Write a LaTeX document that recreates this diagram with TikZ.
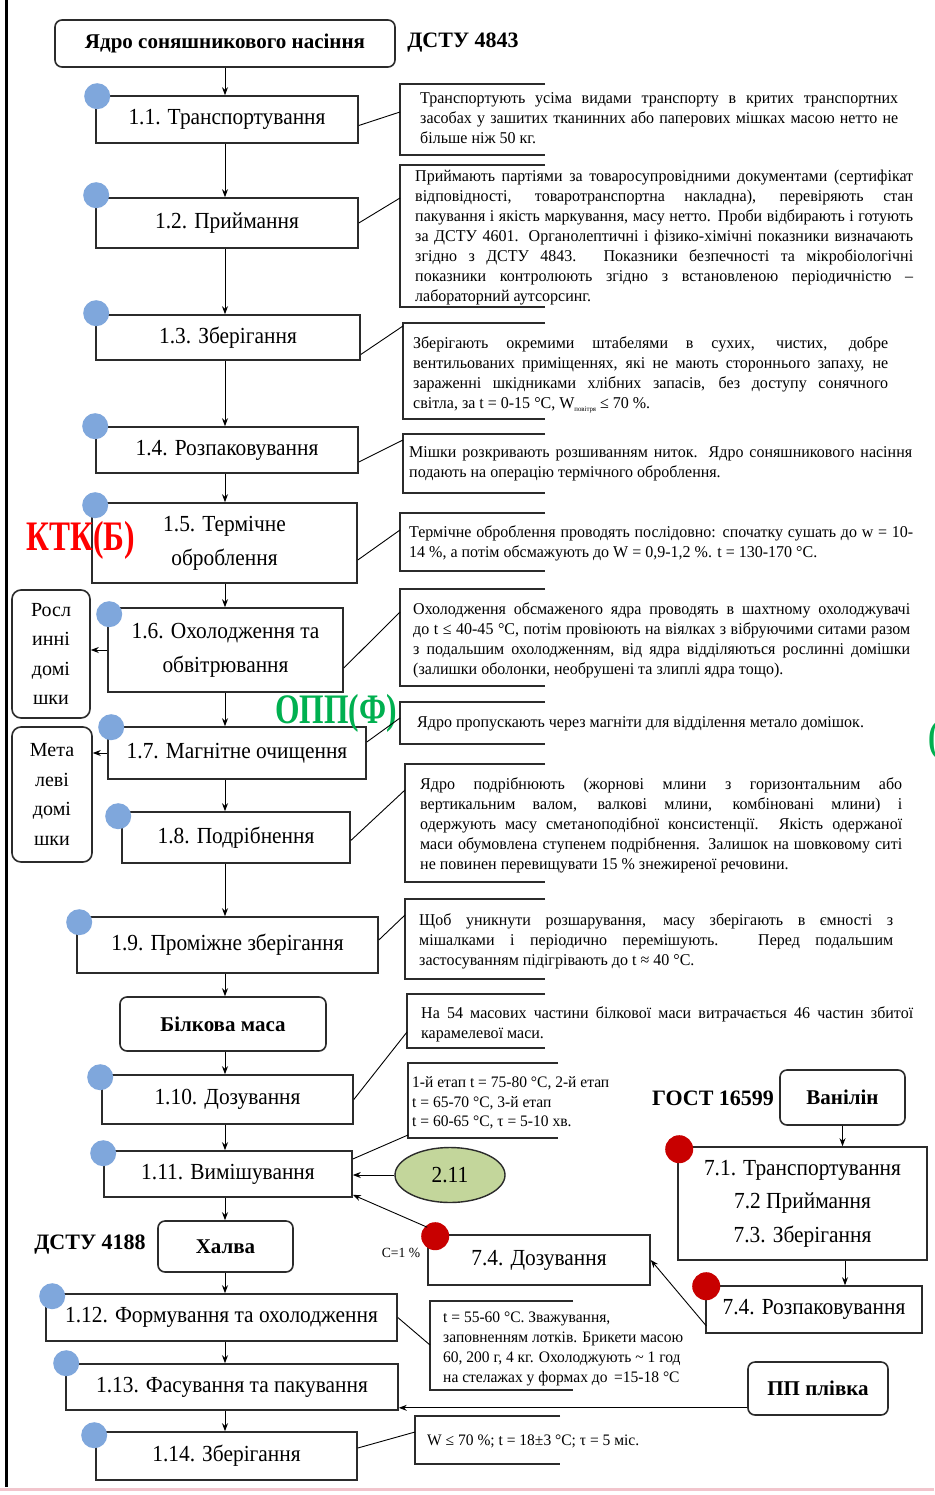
\documentclass[tikz,border=0pt]{standalone}
\usepackage{fontspec}
\setmainfont{Liberation Serif}
\newfontfamily\stepfont[FakeStretch=0.93]{Liberation Serif}
\newfontfamily\descfont[FakeStretch=0.97]{Liberation Serif}
\newfontfamily\markfont[FakeStretch=0.75]{Liberation Serif}
\usetikzlibrary{arrows.meta,calc,shapes.geometric}

\definecolor{stepblue}{HTML}{7FA7DC}
\definecolor{dotred}{HTML}{C80000}
\definecolor{ktkred}{HTML}{FF0000}
\definecolor{oppgreen}{HTML}{00B050}
\definecolor{ovalgreen}{HTML}{C3D69B}
\definecolor{edgegray}{HTML}{2B2B2B}
\definecolor{rulepink}{HTML}{F2C4CC}

% one justified line of a description block
\newcommand\jl[2]{\makebox[#1pt][s]{#2}}
% open frame of a description block: left side, top and bottom rules
\newcommand\dframe[4]{\draw[frameline] (#4,#2) -- (#1,#2) -- (#1,#3) -- (#4,#3);}

\tikzset{
  stepbox/.style={draw=edgegray, line width=1.6pt, fill=white, inner sep=2pt,
    align=center, font=\stepfont\fontsize{23}{34}\selectfont},
  roundbox/.style={stepbox, rounded corners=7pt, font=\bfseries\fontsize{21}{26}\selectfont},
  sidebox/.style={stepbox, rounded corners=9pt, font=\fontsize{20}{29.5}\selectfont},
  bluedot/.style={circle, fill=stepblue, minimum size=26pt, inner sep=0pt},
  reddot/.style={circle, fill=dotred, minimum size=28pt, inner sep=0pt},
  arr/.style={-{Stealth[length=8pt,width=6pt]}, line width=0.9pt},
  link/.style={line width=0.9pt},
  frameline/.style={draw=edgegray, line width=2pt},
  desc/.style={anchor=north west, inner sep=0pt, align=left,
    font=\descfont\fontsize{16.5}{20}\selectfont},
  smalldesc/.style={desc, font=\descfont\fontsize{16}{20}\selectfont},
  stdlabel/.style={font=\bfseries\fontsize{22}{26}\selectfont},
  ccp/.style={font=\markfont\bfseries\fontsize{42}{44}\selectfont},
}

\begin{document}
\begin{tikzpicture}[x=1pt,y=-1pt]
\useasboundingbox (0,0) rectangle (934,1495);
\fill[white] (0,0) rectangle (934,1495);

% page rules
\draw[line width=3pt] (6,0) -- (6,1487);
\draw[rulepink, line width=3pt] (0,1489) -- (934,1489);

\coordinate (ax) at (225,0);
\coordinate (rax) at (845,0);

% ---------- main line ----------
\node[roundbox, minimum width=340pt, minimum height=47pt] (top) at (225,43.5) {Ядро соняшникового насіння};
\node[stdlabel] (std1) at (463,43) {ДСТУ 4843};

\node[stepbox, minimum width=262pt, minimum height=47pt] (s11) at (227,119.5) {1.1. Транспортування};
\node[stepbox, minimum width=262pt, minimum height=50pt] (s12) at (227,223) {1.2. Приймання};
\node[stepbox, minimum width=264pt, minimum height=45pt] (s13) at (228,337.5) {1.3. Зберігання};
\node[stepbox, minimum width=262pt, minimum height=46pt] (s14) at (227,450) {1.4. Розпаковування};
\node[stepbox, minimum width=265pt, minimum height=80pt] (s15) at (224.5,543) {1.5. Термічне\\оброблення};
\node[stepbox, minimum width=235pt, minimum height=84pt] (s16) at (225.5,650) {1.6. Охолодження та\\обвітрювання};
\node[stepbox, minimum width=258pt, minimum height=52pt] (s17) at (237,753) {1.7. Магнітне очищення};
\node[stepbox, minimum width=228pt, minimum height=51pt] (s18) at (236,837.5) {1.8. Подрібнення};
\node[stepbox, minimum width=301pt, minimum height=56pt] (s19) at (227.5,945) {1.9. Проміжне зберігання};
\node[roundbox, minimum width=206pt, minimum height=54pt] (bilk) at (223,1024) {Білкова маса};
\node[stepbox, minimum width=251pt, minimum height=49pt] (s110) at (227.5,1099.5) {1.10. Дозування};
\node[stepbox, minimum width=248pt, minimum height=46pt] (s111) at (228,1174) {1.11. Вимішування};
\node[roundbox, minimum width=135pt, minimum height=51pt] (halva) at (225.5,1246.5) {Халва};
\node[stdlabel] (std2) at (90,1245) {ДСТУ 4188};
\node[stepbox, minimum width=351pt, minimum height=47pt] (s112) at (221.5,1317.5) {1.12. Формування та охолодження};
\node[stepbox, minimum width=332pt, minimum height=46pt] (s113) at (232,1387) {1.13. Фасування та пакування};
\node[stepbox, minimum width=261pt, minimum height=48pt] (s114) at (226.5,1456) {1.14. Зберігання};

% waste boxes
\node[sidebox, minimum width=78pt, minimum height=128pt] (rosl) at (51,654) {Росл\\инні\\домі\\шки};
\node[sidebox, minimum width=80pt, minimum height=135pt] (metal) at (52,794.5) {Мета\\леві\\домі\\шки};

% control point marks
\node[ccp, text=ktkred] (ktk) at (81,540) {КТК(Б)};
\node[ccp, text=oppgreen] (opp) at (336,713) {ОПП(Ф)};
\node[ccp, text=oppgreen, anchor=west, inner sep=0pt] (gparen) at (928,740) {(};

% ---------- vanillin line ----------
\node[stdlabel] (std3) at (713,1098) {ГОСТ 16599};
\node[roundbox, minimum width=125pt, minimum height=55pt] (van) at (842.5,1097.5) {Ванілін};
\node[stepbox, minimum width=249pt, minimum height=113pt, font=\stepfont\fontsize{23}{33.5}\selectfont] (s71) at (802.5,1203.5) {7.1. Транспортування\\7.2 Приймання\\7.3. Зберігання};
\node[stepbox, minimum width=216pt, minimum height=47pt] (s74r) at (814,1309.5) {7.4. Розпаковування};
\node[stepbox, minimum width=222pt, minimum height=50pt] (s74d) at (539,1260) {7.4. Дозування};
\node[font=\descfont\fontsize{14}{16}\selectfont] (conc) at (401,1253) {С=1 \%};
\node[ellipse, draw=edgegray, line width=1.4pt, fill=ovalgreen, minimum width=110pt, minimum height=55pt, font=\stepfont\fontsize{23}{26}\selectfont] (ell) at (450,1175) {2.11};
\node[roundbox, minimum width=140pt, minimum height=53pt] (pp) at (818,1388.5) {ПП плівка};

% step marks
\foreach \n/\dx/\dy in {s11/2/1, s12/1/-2, s13/1/-1, s14/0/0, s15/4/3, s16/2/7, s17/4/1, s18/-3/5,
                        s19/3/6, s110/-1/3, s111/0/3, s112/7/3, s113/1/0, s114/-1/4}
  \node[bluedot] (c\n) at ($(\n.north west)+(\dx,\dy)$) {};
\foreach \n/\dx/\dy in {s71/2/3, s74r/1/1, s74d/8/2}
  \node[reddot] (c\n) at ($(\n.north west)+(\dx,\dy)$) {};

% ---------- flow arrows ----------
\foreach \a/\b in {top/s11, s11/s12, s12/s13, s13/s14, s14/s15, s15/s16, s16/s17, s17/s18,
                   s18/s19, s19/bilk, bilk/s110, s110/s111, s111/halva, halva/s112, s112/s113, s113/s114}
  \draw[arr] (\a.south -| ax) -- (\b.north -| ax);
\draw[arr] (s16.west) -- (s16.west -| rosl.east);
\draw[arr] (s17.west) -- (s17.west -| metal.east);
\draw[arr] (van.south) -- (van.south |- s71.north);
\draw[arr] (s71.south -| rax) -- (s74r.north -| rax);
\draw[arr] ($(s74r.south west)+(1,-8)$) -- (s74d.east);
\draw[arr] ($(s74d.north west)+(0,-7)$) -- ($(s111.south east)+(0,-3)$);
\draw[arr] (ell.west) -- (ell.west -| s111.east);
\draw[arr] ($(pp.south west)+(0,-8)$) coordinate (ppout) -- (ppout -| s113.east);

% ---------- description blocks ----------
\dframe{400}{84}{155}{545}
\coordinate (d1) at (400,112);
\node[desc] (t1) at (420,89) {\strut\jl{478}{Транспортують усіма видами транспорту в критих транспортних}\\
\jl{478}{засобах у зашитих тканинних або паперових мішках масою нетто не}\\
більше ніж 50 кг.};

\dframe{400}{165}{307}{545}
\coordinate (d2) at (400,198);
\node[desc] (t2) at (415,167) {\strut\jl{498}{Приймають партіями за товаросупровідними документами (сертифікат}\\
\jl{498}{відповідності, товаротранспортна накладна), перевіряють стан}\\
\jl{498}{пакування і якість маркування, масу нетто. Проби відбирають і готують}\\
\jl{498}{за ДСТУ 4601. Органолептичні і фізико-хімічні показники визначають}\\
\jl{498}{згідно з ДСТУ 4843. Показники безпечності та мікробіологічні}\\
\jl{498}{показники контролюють згідно з встановленою періодичністю –}\\
лабораторний аутсорсинг.};

\dframe{403}{323}{419}{545}
\coordinate (d3) at (403,326);
\node[desc] (t3) at (413,334) {\strut\jl{475}{Зберігають окремими штабелями в сухих, чистих, добре}\\
\jl{475}{вентильованих приміщеннях, які не мають стороннього запаху, не}\\
\jl{475}{зараженні шкідниками хлібних запасів, без доступу сонячного}\\
світла, за t = 0-15 °С, W\raisebox{-3pt}{\fontsize{7}{8}\selectfont повітря} ≤ 70 \%.};

\dframe{403}{434}{493}{545}
\coordinate (d4) at (403,440);
\node[desc] (t4) at (409,443) {\strut\jl{503}{Мішки розкривають розшиванням ниток. Ядро соняшникового насіння}\\
подають на операцію термічного оброблення.};

\dframe{400}{513}{571}{545}
\coordinate (d5) at (400,530);
\node[desc] (t5) at (409,523) {\strut\jl{504}{Термічне оброблення проводять послідовно: спочатку сушать до w = 10-}\\
14 \%, а потім обсмажують до W = 0,9-1,2 \%. t = 130-170 °С.};

\dframe{400}{589}{686}{545}
\coordinate (d6) at (400,612);
\node[desc] (t6) at (413,600) {\strut\jl{497}{Охолодження обсмаженого ядра проводять в шахтному охолоджувачі}\\
\jl{497}{до t ≤ 40-45 °С, потім провіюють на віялках з вібруючими ситами разом}\\
\jl{497}{з подальшим охолодженням, від ядра відділяються рослинні домішки}\\
(залишки оболонки, необрушені та злиплі ядра тощо).};

\dframe{400}{702}{744}{545}
\coordinate (d7) at (400,718);
\node[desc] (t7) at (417,713) {\strut Ядро пропускають через магніти для відділення метало домішок.};

\dframe{405}{764}{882}{545}
\coordinate (d8) at (405,790);
\node[desc] (t8) at (420,775) {\strut\jl{482}{Ядро подрібнюють (жорнові млини з горизонтальним або}\\
\jl{482}{вертикальним валом, валкові млини, комбіновані млини) і}\\
\jl{482}{одержують масу сметаноподібної консистенції. Якість одержаної}\\
\jl{482}{маси обумовлена ступенем подрібнення. Залишок на шовковому ситі}\\
не повинен перевищувати 15 \% знежиреної речовини.};

\dframe{405}{899}{979}{545}
\coordinate (d9) at (405,915);
\node[desc] (t9) at (419,911) {\strut\jl{474}{Щоб уникнути розшарування, масу зберігають в ємності з}\\
\jl{474}{мішалками і періодично перемішують. Перед подальшим}\\
застосуванням підігрівають до t ≈ 40 °С.};

\dframe{407}{994}{1048}{545}
\coordinate (d10) at (407,1032);
\node[desc] (t10) at (421,1004) {\strut\jl{492}{На 54 масових частини білкової маси витрачається 46 частин збитої}\\
карамелевої маси.};

\dframe{408}{1063}{1138}{558}
\coordinate (d11) at (408,1135);
\node[smalldesc, font=\descfont\fontsize{16}{19.5}\selectfont] (t11) at (412,1074) {\strut 1-й етап t = 75-80 °С, 2-й етап\\
t = 65-70 °С, 3-й етап\\
t = 60-65 °С, τ = 5-10 хв.};

\dframe{430}{1301}{1390}{573}
\coordinate (d12) at (430,1345);
\node[smalldesc] (t12) at (443,1308.5) {\strut t = 55-60 °С. Зважування,\\
заповненням лотків. Брикети масою\\
60, 200 г, 4 кг. Охолоджують \textasciitilde{} 1 год\\
на стелажах у формах до\, =15-18 °С};

\dframe{415}{1416}{1464}{560}
\coordinate (d13) at (415,1432);
\node[smalldesc] (t13) at (427,1431) {\strut W ≤ 70 \%; t = 18±3 °С; τ = 5 міс.};

% ---------- leaders from steps to descriptions ----------
\draw[link] ($(s11.east)+(0,6)$) -- (d1);
\draw[link] (s12.east) -- (d2);
\draw[link] ($(s13.east)+(0,17)$) -- (d3);
\draw[link] ($(s14.east)+(0,12)$) -- (d4);
\draw[link] ($(s15.east)+(0,17)$) -- (d5);
\draw[link] ($(s16.east)+(0,18)$) -- (d6);
\draw[link] ($(s17.east)+(0,-11)$) -- (d7);
\draw[link] ($(s18.east)+(0,3)$) -- (d8);
\draw[link] ($(s19.east)+(0,-5)$) -- (d9);
\draw[link] (s110.east) -- (d10);
\draw[link] ($(s111.east)+(0,-15)$) -- (d11);
\draw[link] (s112.east) -- (d12);
\draw[link] ($(s114.east)+(0,-8)$) -- (d13);

\end{tikzpicture}
\end{document}
